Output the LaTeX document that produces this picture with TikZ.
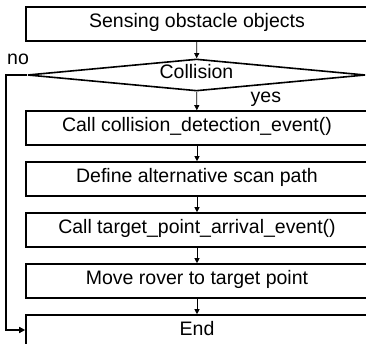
\documentclass[tikz,border=0pt]{standalone}
\usepackage{fontspec}
\setmainfont{Liberation Sans}
\usetikzlibrary{arrows.meta,shapes.geometric}
\begin{document}
\begin{tikzpicture}[x=1pt,y=-1pt,
  txt/.style={font=\fontsize{19.5}{22}\selectfont, text height=0.716em, text depth=0pt},
  stepbox/.style={txt, draw, line width=1.6pt, minimum width=342pt, minimum height=34pt, inner sep=0pt},
  decision/.style={txt, draw, shape=diamond, shape aspect=10, line width=1.6pt, minimum width=338pt, minimum height=32pt, inner sep=0pt},
  flow/.style={line width=0.7pt, -{Triangle[length=5pt,width=5pt]}},
  backflow/.style={line width=1.6pt, -{Triangle[length=6pt,width=6pt]}},
  lbl/.style={txt, inner sep=0pt, anchor=base west}]
\useasboundingbox (0,0) rectangle (366,344);
\clip (0,0) rectangle (366,344);
\fill[white] (0,0) rectangle (366,344);

\node[stepbox] (s1) at (197,24) {Sensing obstacle objects};
\node[decision] (d) at (196.5,75) {Collision};
\node[stepbox] (s2) at (197,128) {Call collision\_detection\_event()};
\node[stepbox] (s3) at (197,179) {Define alternative scan path};
\node[stepbox] (s4) at (197,230) {Call target\_point\_arrival\_event()};
\node[stepbox] (s5) at (197,281) {Move rover to target point};
\node[stepbox] (s6) at (197,332) {End};

\node[lbl] (no) at (7,65) {no};
\node[lbl] (yes) at (250.5,103) {yes};

\draw[flow] (s1) -- (d);
\draw[flow] (d) -- (s2);
\draw[flow] (s2) -- (s3);
\draw[flow] (s3) -- (s4);
\draw[flow] (s4) -- (s5);
\draw[flow] (s5) -- (s6);

\coordinate (c1) at (6,75);
\coordinate (c2) at (6,330);
\draw[backflow] (d.west) -- (c1) -- (c2) -- (s6.west |- c2);
\end{tikzpicture}
\end{document}
